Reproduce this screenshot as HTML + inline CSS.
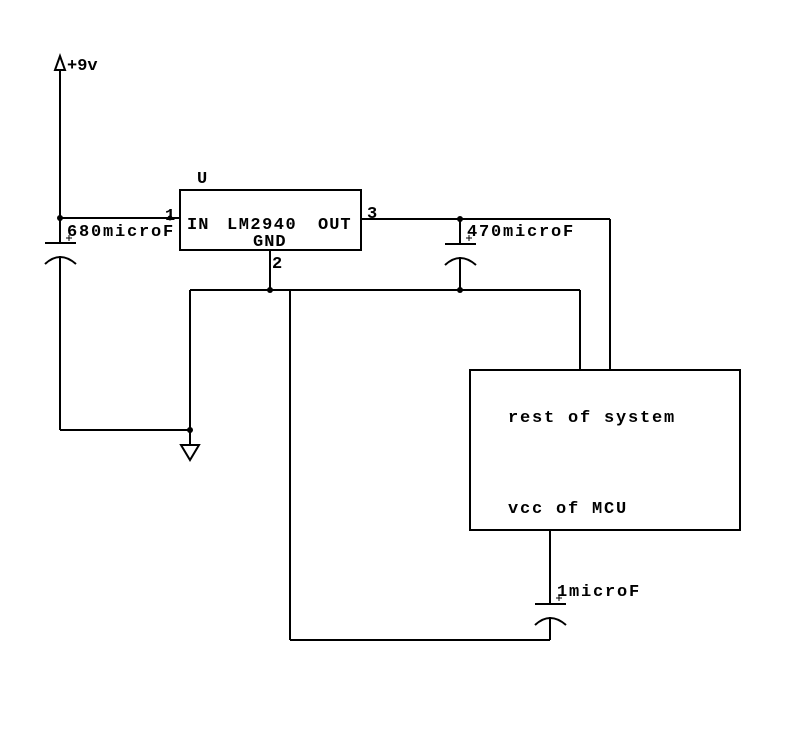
<!DOCTYPE html>
<html><head><meta charset="utf-8"><style>
html,body{margin:0;padding:0;background:#fff;}
svg{display:block}
text{font-family:"Liberation Mono",monospace;fill:#000;font-weight:bold;}
</style></head><body>
<svg width="789" height="744" viewBox="0 0 789 744" xmlns="http://www.w3.org/2000/svg">
<g stroke="#000" stroke-width="2" fill="none">
<polygon points="60,56 55,70 65,70"/>
<line x1="60" y1="70" x2="60" y2="243"/>
<line x1="60" y1="218" x2="180" y2="218"/>
<line x1="45" y1="243" x2="76" y2="243"/>
<path d="M45,264 Q60,250 76,264"/>
<line x1="60" y1="256" x2="60" y2="430"/>
<line x1="60" y1="430" x2="190" y2="430"/>
<line x1="190" y1="290" x2="190" y2="445"/>
<polygon points="181,445 199,445 190,460"/>
<rect x="180" y="190" width="181" height="60"/>
<line x1="270" y1="250" x2="270" y2="290"/>
<line x1="190" y1="290" x2="580" y2="290"/>
<line x1="580" y1="290" x2="580" y2="370"/>
<line x1="361" y1="219" x2="610" y2="219"/>
<line x1="610" y1="219" x2="610" y2="370"/>
<line x1="460" y1="219" x2="460" y2="244"/>
<line x1="445" y1="244" x2="476" y2="244"/>
<path d="M445,265 Q460,251 476,265"/>
<line x1="460" y1="257" x2="460" y2="290"/>
<rect x="470" y="370" width="270" height="160"/>
<line x1="550" y1="530" x2="550" y2="604"/>
<line x1="535" y1="604" x2="566" y2="604"/>
<path d="M535,625 Q550,611 566,625"/>
<line x1="550" y1="617" x2="550" y2="640"/>
<line x1="550" y1="640" x2="290" y2="640"/>
<line x1="290" y1="640" x2="290" y2="290"/>
<line x1="66" y1="238" x2="72" y2="238" stroke-width="1"/><line x1="69" y1="235" x2="69" y2="241" stroke-width="1"/>
<line x1="466" y1="238" x2="472" y2="238" stroke-width="1"/><line x1="469" y1="235" x2="469" y2="241" stroke-width="1"/>
<line x1="556" y1="598" x2="562" y2="598" stroke-width="1"/><line x1="559" y1="595" x2="559" y2="601" stroke-width="1"/>
</g>
<g fill="#000">
<circle cx="60" cy="218" r="3"/><circle cx="170" cy="218" r="2.5"/>
<circle cx="190" cy="430" r="3"/><circle cx="270" cy="290" r="3"/>
<circle cx="460" cy="290" r="3"/><circle cx="460" cy="219" r="3"/>
</g>
<g font-size="17">
<text x="67" y="70">+9v</text>
<text x="197" y="183">U</text>
<text x="165" y="220">1</text>
<text x="187" y="229" letter-spacing="1">IN</text>
<text x="227" y="229" letter-spacing="1.5">LM2940</text>
<text x="318" y="229" letter-spacing="1">OUT</text>
<text x="253" y="246" letter-spacing="1">GND</text>
<text x="367" y="218">3</text>
<text x="272" y="268">2</text>
<text x="67" y="236" letter-spacing="1.8">680microF</text>
<text x="467" y="236" letter-spacing="1.8">470microF</text>
<text x="557" y="596" letter-spacing="1.8">1microF</text>
<text x="508" y="422" letter-spacing="1.8">rest of system</text>
<text x="508" y="513" letter-spacing="1.8">vcc of MCU</text>
</g>
</svg>
</body></html>
